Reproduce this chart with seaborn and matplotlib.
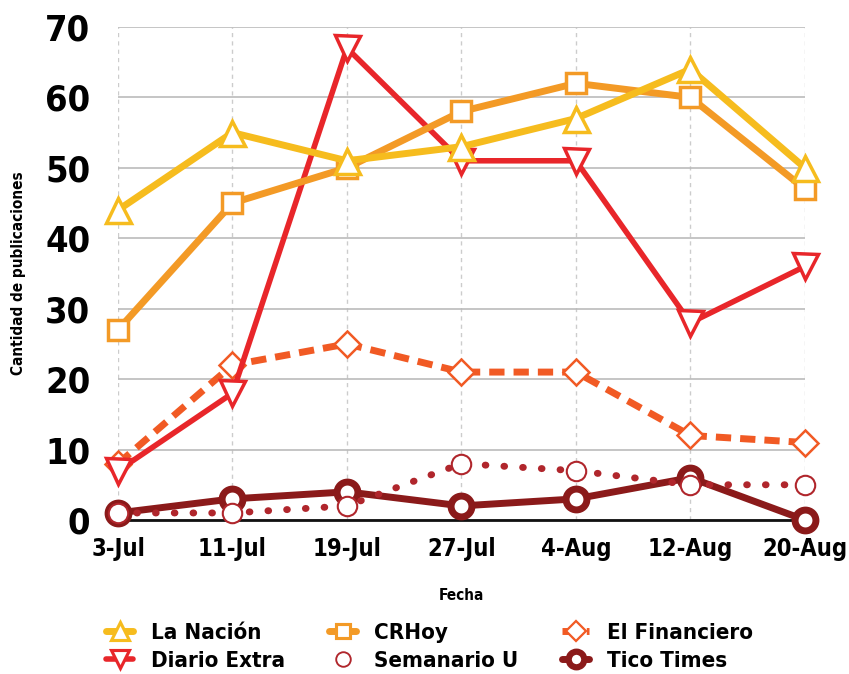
import matplotlib
matplotlib.use("Agg")
import matplotlib.pyplot as plt
from matplotlib import font_manager
from matplotlib.lines import Line2D
import seaborn as sns
import pandas as pd

fechas = ["3-Jul", "11-Jul", "19-Jul", "27-Jul", "4-Aug", "12-Aug", "20-Aug"]
la_nacion = [44, 55, 51, 53, 57, 64, 50]
crhoy = [27, 45, 50, 58, 62, 60, 47]
diario_extra = [7, 18, 67, 51, 51, 28, 36]
el_financiero = [8, 22, 25, 21, 21, 12, 11]
semanario_u = [1, 1, 2, 8, 7, 5, 5]
tico_times = [1, 3, 4, 2, 3, 6, 0]

sns.set_style("white")
names = {f.name for f in font_manager.fontManager.ttflist}
if "Liberation Sans Narrow" in names:
    FONT = ["Liberation Sans Narrow", "DejaVu Sans"]
    STRETCH = "normal"
else:
    FONT = ["DejaVu Sans"]
    STRETCH = "condensed"
plt.rcParams["font.family"] = FONT
plt.rcParams["font.weight"] = "bold"
plt.rcParams["font.stretch"] = STRETCH
plt.rcParams["text.color"] = "black"
plt.rcParams["axes.labelcolor"] = "black"

fig = plt.figure(figsize=(8.49, 6.74), dpi=100)
ax = fig.add_axes([0.139, 0.2285, 0.809, 0.7315])

x = list(range(len(fechas)))

series = [
    ("Tico Times", tico_times, dict(color="#8B1A1A", marker="o", linestyle="-", linewidth=5,
                                    markersize=15, markeredgewidth=5)),
    ("Semanario U", semanario_u, dict(color="#B0262C", marker="o", linestyle=(0, (0.1, 2.6)), linewidth=5,
                                      dash_capstyle="round",
                                      markersize=14, markeredgewidth=1.5)),
    ("El Financiero", el_financiero, dict(color="#F15A24", marker="D", linestyle=(0, (2.2, 1.3)), linewidth=5,
                                          markersize=13, markeredgewidth=1.8)),
    ("Diario Extra", diario_extra, dict(color="#E8262A", marker="v", linestyle="-", linewidth=4,
                                        markersize=18, markeredgewidth=2.5)),
    ("CRHoy", crhoy, dict(color="#F39A26", marker="s", linestyle="-", linewidth=5,
                          markersize=14, markeredgewidth=2.5)),
    ("La Nación", la_nacion, dict(color="#F6BC1E", marker="^", linestyle="-", linewidth=5,
                                  markersize=18, markeredgewidth=2.5)),
]

handles = {}
for name, vals, kw in series:
    df = pd.DataFrame({"x": x, "y": vals})
    sns.lineplot(data=df, x="x", y="y", ax=ax, clip_on=False, zorder=3,
                 markerfacecolor="white", markeredgecolor=kw["color"], **kw)
    hk = dict(kw)
    hk["markersize"] = kw["markersize"] * 0.75
    hk["markeredgewidth"] = kw["markeredgewidth"] * 0.9
    if name == "Semanario U":
        hk["linestyle"] = "none"
    handles[name] = Line2D([], [], markerfacecolor="white", markeredgecolor=kw["color"], **hk)

ax.set_xlim(0, len(fechas) - 1)
ax.set_ylim(0, 70)
ax.set_yticks(range(0, 71, 10))
ax.set_xticks(x)
ax.set_xticklabels(fechas)
for lab in ax.get_xticklabels():
    lab.set_fontsize(17)
    lab.set_fontweight("bold")
for lab in ax.get_yticklabels():
    lab.set_fontsize(26)
    lab.set_fontweight("bold")
ax.tick_params(axis="x", length=0, pad=12, colors="black")
ax.tick_params(axis="y", length=0, pad=20, colors="black")

ax.grid(axis="y", color="#BBBBBB", linewidth=1.2, linestyle="-", zorder=0)
ax.grid(axis="x", color="#CCCCCC", linewidth=1.0, linestyle=(0, (3, 3)), zorder=0)
ax.set_axisbelow(True)
for s in ["top", "right", "left"]:
    ax.spines[s].set_visible(False)
ax.spines["bottom"].set_color("#111111")
ax.spines["bottom"].set_linewidth(2)

ax.set_xlabel("Fecha", fontsize=11, fontweight="bold", labelpad=20)
ax.set_ylabel("Cantidad de publicaciones", fontsize=11, fontweight="bold", labelpad=14)

order = ["La Nación", "Diario Extra", "CRHoy", "Semanario U", "El Financiero", "Tico Times"]
ax.legend([handles[n] for n in order], order, ncol=3, loc="upper left",
          bbox_to_anchor=(-0.03, -0.19), frameon=False, fontsize=16,
          handlelength=1.2, columnspacing=2.0, handletextpad=0.8, labelspacing=0.36,
          borderaxespad=0)

fig.savefig("out.png", dpi=100)
